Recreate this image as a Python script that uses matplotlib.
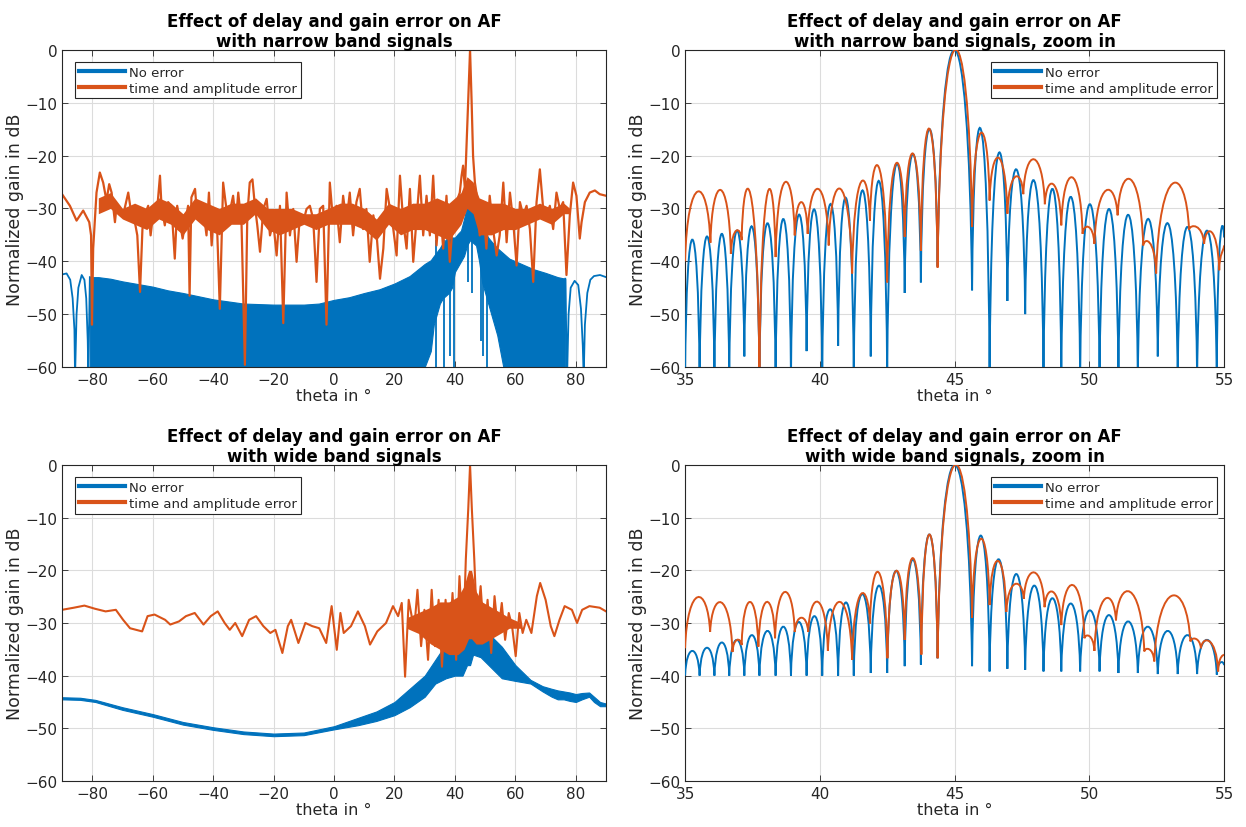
import matplotlib
matplotlib.use('Agg')
import matplotlib.pyplot as plt
from matplotlib.path import Path
from matplotlib.patches import PathPatch

BLUE = '#0072BD'
ORANGE = '#D95319'

# ---------------- narrow band, full scan ----------------
nb_blue_left_theta = [-90, -88.5, -87.3, -86.5, -85.9, -85.7, -85.2, -84.6, -83.5, -82.6, -82.0, -81.5, -81.3, -80.8]
nb_blue_left_db = [-42.5, -42.3, -43.5, -47, -53, -62, -50, -45, -42.6, -43.5, -47, -55, -62, -43]
nb_blue_right_theta = [76.5, 77.1, 77.6, 78.3, 79.6, 80.8, 81.7, 82.3, 82.6, 83.0, 83.8, 84.8, 86, 88, 90]
nb_blue_right_db = [-43.3, -62, -50, -45, -43.7, -44.5, -49, -56, -62, -52, -46, -43.5, -42.8, -42.6, -43]
nb_band_theta = [-80.8, -78, -74, -70, -65, -60, -55, -50, -45, -40, -35, -30, -20, -10, -5, 0, 5,
                 10, 15, 20, 25, 30, 32, 33, 35, 36, 38, 39, 40, 41, 42, 43, 44, 45, 47, 48, 49,
                 50, 51, 52, 54, 55, 56, 58, 62, 66, 70, 74, 76.5]
nb_band_top = [-43, -43, -43.3, -43.8, -44.3, -44.8, -45.5, -46, -46.6, -47.2, -47.6, -48, -48.2, -48.2,
               -48, -47.3, -46.8, -46, -45.3, -44.2, -42.8, -40.5, -39.8, -39, -37.5, -36.5, -35.3,
               -35.5, -35.5, -34.8, -34.2, -32, -29.5, -28.3, -28.3, -30.5, -33, -34.5, -35.5, -36.2,
               -37.5, -38, -38.5, -39.5, -40.5, -41.5, -42.2, -43, -43.3]
nb_band_bottom = [-60, -60, -60, -60, -60, -60, -60, -60, -60, -60, -60, -60, -60, -60, -60, -60, -60,
                  -60, -60, -60, -60, -60, -57, -52, -48, -47, -46, -45, -42, -41, -40, -39, -37,
                  -36, -37, -40, -44, -46, -48, -50, -54, -57, -60, -60, -60, -60, -60, -60, -60]
nb_spike_theta = [33.8, 36.4, 38.2, 39.6, 44.4, 45.6, 48.6, 49.2, 50.5]
nb_spike_db = [-60, -60, -58, -60, -44, -46, -55, -58, -60]

nb_orange_theta = [-90, -87.4, -85.2, -83.0, -81.0, -80.4, -80.1, -79.7, -78.6, -77.5, -76.4, -75.3, -74.4,
                   -73.6, -72.5, -72.0, -70.9, -69.8, -68.1, -67.0, -65.9, -65.1, -64.2, -63.4, -62.3,
                   -61.5, -60.7, -59.8, -58.7, -57.6, -57.1, -56.0, -54.9, -53.8, -52.7, -51.9, -51.0,
                   -50.1, -49.4, -48.3, -47.8, -47.2, -46.0, -45.3, -44.4, -43.3, -42.2, -41.4, -40.5,
                   -39.8, -38.9, -37.8, -36.7, -35.9, -35.0, -34.3, -33.4, -32.5, -31.7, -30.6, -29.5,
                   -28.7, -27.9, -27.0, -26.2, -25.4, -24.5, -23.4, -22.3, -21.2, -20.1, -19.0, -17.9,
                   -16.8, -15.7, -14.6, -13.5, -12.4, -11.3, -10.2, -9.1, -8.0, -6.9, -5.8, -4.7, -3.6,
                   -2.5, -1.4, -0.3, 0.8, 1.9, 3.0, 4.1, 5.2, 6.3, 7.4, 8.5, 9.6, 10.7, 11.8, 13.0, 14.1,
                   15.2, 16.3, 17.4, 18.5, 19.6, 20.7, 21.8, 22.9, 24.0, 25.1, 26.2, 27.3, 28.4, 29.5,
                   30.6, 31.7, 32.8, 33.9, 35.0, 36.1, 37.2, 38.3, 39.4, 40.5, 41.6, 42.2, 42.7, 43.3,
                   43.8, 44.4, 45.0, 45.5, 46.0, 46.6, 47.1, 48.2, 49.3, 50.4, 51.5, 52.6, 53.8, 54.8,
                   56.0, 57.1, 58.2, 59.3, 60.4, 61.5, 62.6, 63.7, 64.8, 65.9, 67.0, 68.1, 69.2, 70.3,
                   71.4, 72.5, 73.6, 74.7, 75.8, 76.9, 78.0, 79.1, 80.2, 80.8, 81.3, 81.9, 83.0, 84.6,
                   86.3, 87.9, 90]
nb_orange_db = [-27.3, -29.5, -32.3, -30.4, -32.6, -35.1, -52.0, -37.6, -27.0, -23.2, -25.1, -28.5, -25.4,
                -27.0, -32.6, -29.8, -30.1, -31.3, -27.0, -31.3, -32.6, -35.1, -45.8, -33.9, -30.7,
                -29.5, -35.1, -30.7, -31.3, -23.8, -29.5, -33.2, -28.8, -29.5, -39.5, -29.5, -32.6,
                -35.7, -33.2, -29.5, -46.5, -27.9, -26.3, -31.3, -28.8, -30.1, -35.1, -27.0, -37.0,
                -30.7, -30.1, -49.0, -25.1, -28.8, -32.6, -30.1, -27.6, -32.6, -27.0, -33.2, -59.6,
                -31.3, -25.1, -24.5, -29.5, -33.2, -38.2, -30.1, -28.2, -35.1, -32.6, -38.9, -29.5,
                -51.7, -27.0, -35.1, -30.1, -40.1, -31.3, -32.6, -30.1, -29.5, -32.0, -43.9, -30.1,
                -29.5, -52.0, -25.1, -32.6, -29.5, -36.4, -27.6, -32.6, -27.0, -35.1, -28.8, -26.3,
                -33.9, -30.1, -40.1, -31.3, -35.1, -43.3, -37.6, -26.3, -30.1, -33.9, -38.9, -23.8,
                -32.6, -37.6, -26.3, -40.1, -32.0, -23.8, -35.1, -27.6, -35.1, -23.8, -37.0, -28.8,
                -37.6, -27.6, -40.1, -32.0, -28.8, -27.0, -23.8, -21.9, -26.3, -18.8, -9.4, 0.0, -9.4,
                -20.1, -25.1, -27.0, -35.1, -29.5, -37.6, -27.6, -33.9, -38.9, -35.1, -25.1, -36.4,
                -27.0, -32.6, -40.8, -28.8, -31.3, -29.5, -33.9, -43.9, -28.8, -22.6, -30.1, -31.3,
                -29.5, -33.9, -27.0, -30.1, -28.8, -42.6, -31.3, -25.1, -27.6, -32.0, -35.7, -32.6,
                -28.8, -27.0, -26.6, -27.3, -27.6]
# densely packed core of the orange trace
nb_core_theta = [-78, -74, -70, -66, -62, -58, -54, -50, -46, -42, -38, -34, -30, -26, -22, -18, -14, -10,
                 -6, -2, 2, 6, 10, 14, 18, 22, 26, 30, 34, 38, 42, 44, 46, 48, 52, 56, 60, 64, 68, 72,
                 76, 78]
nb_core_top = [-28, -27, -30, -29, -30, -28, -29, -31, -28, -29, -30, -29, -29, -28, -30, -30, -30, -31,
               -31, -30, -29, -29, -30, -32, -29, -30, -29, -29, -28, -29, -27, -24, -25, -28, -29,
               -29, -30, -30, -29, -30, -29, -30]
nb_core_bottom = [-31, -30, -32, -33, -34, -32, -33, -35, -32, -34, -35, -33, -33, -31, -34, -35, -34, -33,
                  -34, -33, -33, -33, -34, -36, -33, -35, -34, -34, -35, -36, -33, -30, -31, -35, -35,
                  -34, -34, -33, -32, -33, -31, -31]

# ---------------- wide band, full scan ----------------
wb_band_theta = [-90, -84, -79, -70, -60, -50, -40, -30, -20, -10, 0, 8, 14, 20, 25, 30, 33.5, 37, 40,
                 42.5, 44, 45, 46, 48.5, 52, 55.5, 60, 65, 69, 72, 74, 76, 78, 80, 82, 84.4, 86, 88, 90]
wb_band_top = [-44.1, -44.2, -44.6, -46.0, -47.3, -48.8, -49.8, -50.6, -51.0, -50.8, -49.6, -48.0, -46.8,
               -45.0, -42.5, -40.0, -37.0, -34.0, -32.5, -32.5, -30.0, -27.0, -26.5, -28.5, -32.5,
               -34.5, -38.0, -40.8, -42.0, -42.5, -42.8, -43.0, -43.2, -43.5, -43.3, -43.2, -44.0,
               -45.0, -45.3]
wb_band_bottom = [-44.5, -44.6, -45.0, -46.5, -47.8, -49.3, -50.3, -51.1, -51.5, -51.3, -50.2, -49.4,
                  -48.6, -47.5, -46.0, -44.0, -41.5, -40.5, -40.0, -40.0, -38.0, -38.0, -36.0, -36.5,
                  -38.5, -40.5, -41.0, -41.5, -43.0, -44.0, -44.5, -44.5, -44.8, -45.0, -44.5, -44.0,
                  -45.0, -45.8, -45.8]

wb_orange_theta = [-90, -86.1, -82.6, -79.1, -75.6, -72.2, -69.8, -67.5, -63.5, -61.7, -59.4, -55.9,
                   -54.2, -51.3, -49.0, -46.1, -43.2, -40.8, -38.5, -36.2, -34.5, -32.7, -30.4, -28.1,
                   -25.8, -23.4, -21.1, -19.4, -17.1, -15.3, -14.2, -11.8, -9.5, -7.2, -4.9, -2.6, -0.8,
                   0.9, 2.1, 3.2, 5.6, 7.9, 10.2, 11.9, 14.3, 17.2, 19.5, 21.2, 22.4, 23.5, 24.7, 26.5,
                   27.6, 28.8, 29.9, 31.1, 32.3, 33.4, 34.6, 35.7, 36.9, 38.1, 39.2, 40.4, 41.5, 42.7,
                   43.6, 44.4, 45.0, 45.6, 46.4, 47.3, 48.5, 49.7, 50.8, 52.0, 53.1, 54.3, 55.5, 56.6,
                   57.8, 58.9, 60.1, 61.3, 62.4, 63.6, 65.3, 67.1, 68.2, 70.0, 71.7, 72.9, 74.6, 76.3,
                   78.7, 80.4, 82.1, 84.5, 87.9, 90]
wb_orange_db = [-27.5, -27.1, -26.7, -27.3, -27.8, -27.5, -29.4, -31.0, -31.6, -28.7, -28.4, -29.4,
                -30.3, -29.7, -28.7, -28.1, -30.3, -28.7, -27.8, -30.0, -31.3, -30.0, -32.5, -29.4,
                -28.7, -30.6, -31.9, -31.3, -35.7, -30.6, -29.4, -33.8, -30.0, -30.6, -31.0, -33.8,
                -26.8, -35.1, -28.1, -31.9, -30.6, -27.8, -30.6, -34.1, -31.6, -30.0, -26.8, -28.7,
                -26.2, -40.2, -25.6, -31.3, -23.7, -34.4, -27.5, -37.0, -23.7, -34.4, -25.6, -38.3,
                -25.6, -35.7, -24.3, -37.0, -21.1, -34.4, -17.9, -8.4, 0.0, -8.4, -17.9, -30.6, -23.0,
                -33.2, -25.6, -35.7, -24.9, -31.9, -26.2, -33.2, -28.1, -30.6, -36.3, -28.1, -31.9,
                -29.4, -31.9, -24.9, -22.4, -25.6, -30.6, -32.5, -29.4, -26.8, -27.5, -30.0, -27.5,
                -26.8, -27.1, -27.8]
wb_core_theta = [24, 28, 32, 35, 38, 41, 43, 44.5, 45.5, 47, 49, 52, 55, 58, 62]
wb_core_top = [-29, -28, -27, -26, -26, -25, -23, -20, -20, -24, -26, -27, -28, -29, -30]
wb_core_bottom = [-31, -32, -34, -35, -36, -36, -35, -33, -33, -34, -34, -33, -32, -31, -31]

# ---------------- zoom panels (35..55 deg): nulls and lobe peaks ----------------
null_theta = [35.0, 35.54, 36.09, 36.64, 37.2, 37.76, 38.36, 38.93, 39.51, 40.09, 40.68, 41.26, 41.89,
              42.5, 43.15, 43.75, 44.37, 45.65, 46.3, 46.96, 47.62, 48.3, 48.96, 49.66, 50.38, 51.08,
              51.8, 52.54, 53.28, 54.0, 54.73, 55.0]
nbz_blue_null = [-62, -62, -62, -62, -58, -62, -62, -62, -57, -62, -56, -62, -58, -62, -46, -44, -41,
                 -45.5, -62, -47.5, -50, -62, -62, -62, -62, -62, -62, -58, -62, -62, -62, -35.5]
nbz_blue_peak = [-35.9, -35.3, -34.8, -34.2, -33.4, -32.8, -32.0, -31.2, -30.2, -29.2, -28.0, -26.6,
                 -24.8, -21.8, -19.7, -15.0, 0.0, -15.0, -19.6, -22.6, -24.8, -26.3, -27.8, -29.2,
                 -30.1, -31.2, -32.0, -32.8, -33.5, -34.2, -35.3]
nbz_orange_dip_theta = [35.0, 35.94, 36.7, 37.1, 37.76, 38.36, 39.07, 39.55, 40.33, 41.2, 41.86, 42.5,
                        43.15, 43.75, 44.37, 45.65, 46.3, 46.96, 47.55, 48.35, 48.96, 49.75, 50.19,
                        51.05, 52.0, 52.48, 53.7, 54.26, 54.82, 55.0]
nbz_orange_dip = [-40, -36.5, -38.6, -36.0, -62, -39.2, -35.1, -34.8, -37.0, -42.3, -32.3, -44, -35.4,
                  -38, -41.2, -33.5, -28.5, -31, -27.3, -29.2, -33.2, -34.8, -36.7, -31.3, -37.0, -42.3,
                  -34.0, -36.7, -41.7, -37]
nbz_orange_peak = [-26.8, -26.5, -34.2, -27.4, -27.1, -25.0, -28.8, -26.3, -26.3, -25.0, -22.1, -21.5,
                   -19.6, -14.9, 0.0, -15.7, -20.4, -24.0, -20.7, -25.4, -24.1, -33.5, -26.6, -24.5,
                   -36.5, -25.3, -33.5, -34.5, -38.5]

wbz_blue_null = [-40, -40, -40, -40, -40, -40, -40, -40, -40, -40, -40, -40, -39.5, -39.5, -38.2, -37.9,
                 -36.7, -38.2, -39.2, -38.7, -38.9, -39.2, -39.2, -39.2, -39.2, -39.5, -39.5, -39.7,
                 -39.7, -39.7, -39.8, -38]
wbz_blue_peak = [-35.3, -34.7, -33.7, -33.2, -32.3, -31.5, -30.7, -29.8, -28.7, -27.4, -26.1, -24.5,
                 -22.9, -20.1, -17.9, -13.2, 0.0, -13.4, -17.9, -20.7, -22.9, -25.3, -26.3, -27.6,
                 -28.5, -29.7, -30.7, -31.5, -32.3, -33.2, -37.5]
wbz_orange_dip_theta = [35.0, 35.93, 36.76, 37.1, 37.72, 38.34, 39.07, 39.57, 40.3, 41.2, 41.86, 42.51,
                        43.15, 43.77, 44.37, 45.65, 46.3, 46.92, 47.57, 48.34, 48.96, 49.82, 50.19,
                        50.99, 52.04, 52.41, 53.75, 54.14, 54.78, 55.0]
wbz_orange_dip = [-34.8, -31.7, -35.5, -34.2, -34.5, -32.9, -31.7, -31.7, -35.3, -37.0, -30.1, -36.7,
                  -33.2, -36, -36.7, -29, -26.6, -27.9, -25.4, -27, -30.4, -32.9, -35.3, -29.5, -35.4,
                  -37.3, -33.5, -34.8, -39.2, -36]
wbz_orange_peak = [-25.1, -26.1, -33.2, -26.0, -26.0, -24.1, -29.0, -26.0, -26.0, -24.5, -20.4, -20.1,
                   -17.7, -13.2, 0.0, -14.0, -18.2, -22.6, -20.4, -24.1, -22.8, -32.5, -25.4, -24.1,
                   -35.0, -24.8, -33.0, -33.5, -36.5]


def lobes(ax, xs, ys, peaks, color):
    # one cubic bezier arch per lobe, from null to null, topping out at the lobe peak
    verts = [(xs[0], ys[0])]
    codes = [Path.MOVETO]
    for i, p in enumerate(peaks):
        x0, x1, y0, y1 = xs[i], xs[i + 1], ys[i], ys[i + 1]
        w = x1 - x0
        c = (p - (y0 + y1) / 8) / 0.75
        verts += [(x0 + 0.1 * w, c), (x1 - 0.1 * w, c), (x1, y1)]
        codes += [Path.CURVE4] * 3
    ax.add_patch(PathPatch(Path(verts, codes), fill=False, ec=color, lw=1.4, zorder=3))


def style(ax, title, full):
    ax.set_title(title, fontsize=12, fontweight='bold', pad=3, linespacing=1.15)
    ax.set_ylim(-60, 0)
    ax.set_yticks(range(-60, 1, 10))
    if full:
        ax.set_xlim(-90, 90)
        ax.set_xticks(range(-80, 81, 20))
    else:
        ax.set_xlim(35, 55)
        ax.set_xticks([35, 40, 45, 50, 55])
    ax.set_xlabel('theta in °', fontsize=11.5, color='#262626', labelpad=1)
    ax.set_ylabel('Normalized gain in dB', fontsize=12.5, color='#262626', labelpad=1)
    ax.grid(True, color='#dcdcdc', lw=0.8)
    ax.set_axisbelow(True)
    ax.tick_params(direction='in', top=True, right=True, length=4, labelsize=11,
                   colors='#262626', width=0.6)
    for s in ax.spines.values():
        s.set_color('#262626')
        s.set_linewidth(0.8)
    h1, = ax.plot([], [], color=BLUE, lw=3)
    h2, = ax.plot([], [], color=ORANGE, lw=3)
    if full:
        kw = dict(loc='upper left', bbox_to_anchor=(13 / 544, 1 - 12 / 317))
    else:
        kw = dict(loc='upper right', bbox_to_anchor=(1 - 7 / 539, 1 - 12 / 317))
    leg = ax.legend([h1, h2], ['No error', 'time and amplitude error'], fontsize=9.5,
                    borderaxespad=0, fancybox=False, framealpha=1, handlelength=3.5,
                    handletextpad=0.3, labelspacing=0.2, borderpad=0.3, **kw)
    leg.get_frame().set_edgecolor('#262626')
    leg.get_frame().set_linewidth(0.8)
    for t in leg.get_texts():
        t.set_color('#262626')


fig = plt.figure(figsize=(12.46, 8.28), dpi=100)
ax1 = fig.add_axes([0.0498, 0.5556, 0.4366, 0.3829])
ax2 = fig.add_axes([0.5498, 0.5556, 0.4326, 0.3829])
ax3 = fig.add_axes([0.0498, 0.0556, 0.4366, 0.3816])
ax4 = fig.add_axes([0.5498, 0.0556, 0.4326, 0.3816])

# narrow band, full
ax1.plot(nb_blue_left_theta, nb_blue_left_db, color=BLUE, lw=1.3)
ax1.plot(nb_blue_right_theta, nb_blue_right_db, color=BLUE, lw=1.3)
ax1.fill_between(nb_band_theta, nb_band_bottom, nb_band_top, color=BLUE, lw=0.8, ec=BLUE)
ax1.vlines(nb_spike_theta, nb_spike_db, -36, color=BLUE, lw=1.3)
ax1.fill_between(nb_core_theta, nb_core_bottom, nb_core_top, color=ORANGE, lw=0)
ax1.plot(nb_orange_theta, nb_orange_db, color=ORANGE, lw=1.6)
style(ax1, 'Effect of delay and gain error on AF\nwith narrow band signals', True)

# narrow band, zoom
lobes(ax2, null_theta, nbz_blue_null, nbz_blue_peak, BLUE)
lobes(ax2, nbz_orange_dip_theta, nbz_orange_dip, nbz_orange_peak, ORANGE)
style(ax2, 'Effect of delay and gain error on AF\nwith narrow band signals, zoom in', False)

# wide band, full
ax3.fill_between(wb_band_theta, wb_band_bottom, wb_band_top, color=BLUE, lw=0.8, ec=BLUE)
ax3.fill_between(wb_core_theta, wb_core_bottom, wb_core_top, color=ORANGE, lw=0)
ax3.plot(wb_orange_theta, wb_orange_db, color=ORANGE, lw=1.5)
style(ax3, 'Effect of delay and gain error on AF\nwith wide band signals', True)

# wide band, zoom
lobes(ax4, null_theta, wbz_blue_null, wbz_blue_peak, BLUE)
lobes(ax4, wbz_orange_dip_theta, wbz_orange_dip, wbz_orange_peak, ORANGE)
style(ax4, 'Effect of delay and gain error on AF\nwith wide band signals, zoom in', False)

fig.savefig('out.png', dpi=100)
